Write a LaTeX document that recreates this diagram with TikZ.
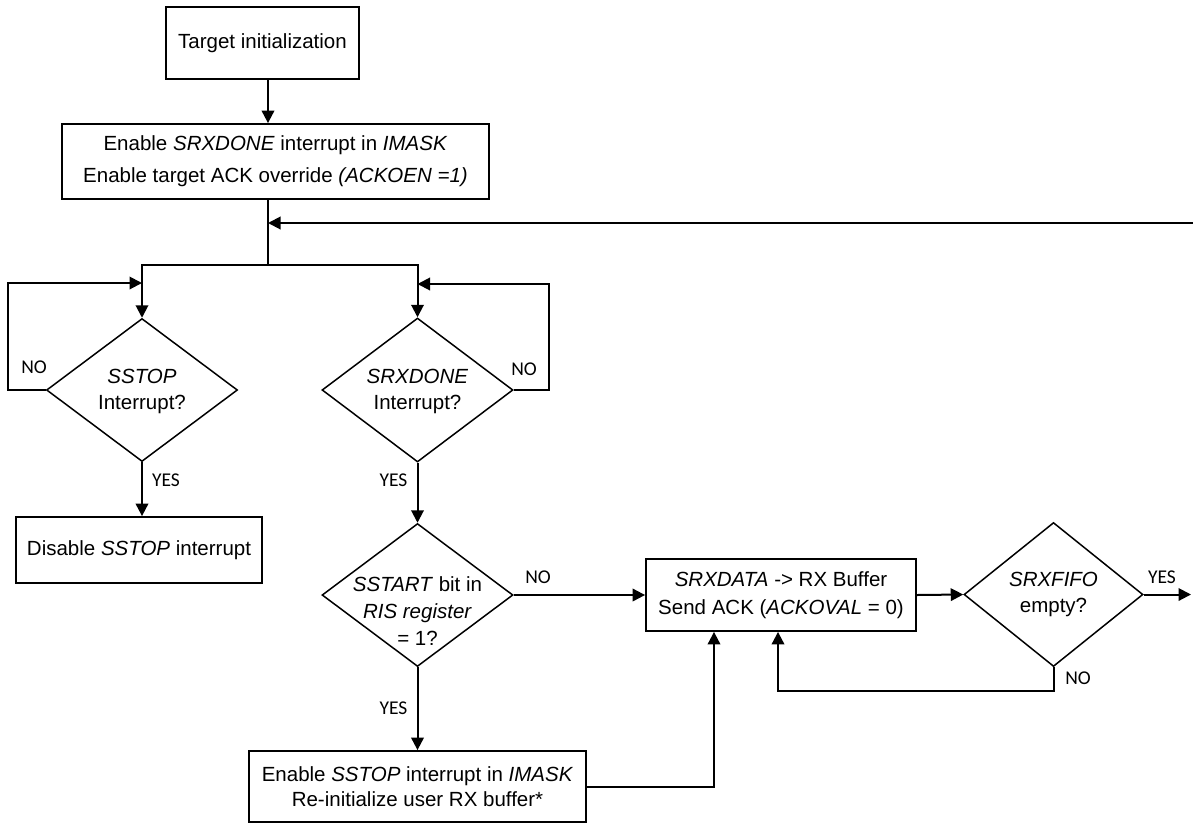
\documentclass[tikz,border=0pt]{standalone}
\usepackage{fontspec}
\setmainfont{Liberation Sans}
\newfontfamily\lblfont{Carlito}
\usetikzlibrary{arrows.meta,shapes.geometric}
\begin{document}
\begin{tikzpicture}[x=1pt,y=-1pt,
  box/.style={draw,line width=1.8pt,inner sep=0pt,align=center,font=\fontsize{20.5}{28}\selectfont},
  dia/.style={draw,diamond,line width=1.5pt,inner sep=0pt},
  dtext/.style={align=center,inner sep=0pt,font=\fontsize{20.5}{26}\selectfont},
  lbl/.style={inner sep=0pt,font=\lblfont\fontsize{19.5}{21}\selectfont},
  conn/.style={line width=2pt},
  arr/.style={line width=2pt,-{Triangle[length=12.5pt,width=12.5pt]}}]
\useasboundingbox (0,0) rectangle (1193,823);
% boxes
\node[box,minimum width=193pt,minimum height=72pt] (b1) at (262.5,43) {Target initialization};
\node[box,minimum width=427pt,minimum height=75pt,font=\fontsize{20.5}{32}\selectfont] (b2) at (275.5,161.5)
  {Enable \textit{SRXDONE} interrupt in \textit{IMASK}\\Enable target ACK override \textit{(ACKOEN =1)}};
\node[box,minimum width=246pt,minimum height=66pt] (b3) at (139,550) {Disable \textit{SSTOP} interrupt};
\node[box,minimum width=337pt,minimum height=71pt,font=\fontsize{20.5}{25}\selectfont] (b4) at (417.5,786.5)
  {Enable \textit{SSTOP} interrupt in \textit{IMASK}\\Re-initialize user RX buffer*};
\node[box,minimum width=270pt,minimum height=72pt] (b5) at (781,595)
  {\textit{SRXDATA} -> RX Buffer\\Send ACK (\textit{ACKOVAL} = 0)};
% diamonds
\node[dia,minimum width=191pt,minimum height=143pt] (d1) at (142,390) {};
\node[dia,minimum width=191pt,minimum height=144pt] (d2) at (417.5,390) {};
\node[dia,minimum width=191pt,minimum height=143pt] (d3) at (417.5,595) {};
\node[dia,minimum width=179pt,minimum height=144pt] (d4) at (1053.5,594.5) {};
\node[dtext] (t1) at (142,391) {\textit{SSTOP}\\Interrupt?};
\node[dtext] (t2) at (417.5,391) {\textit{SRXDONE}\\Interrupt?};
\node[dtext,font=\fontsize{20.5}{27}\selectfont] (t3) at (417.5,611) {\textit{SSTART} bit in\\\textit{RIS register}\\= 1?};
\node[dtext] (t4) at (1053.5,594) {\textit{SRXFIFO}\\empty?};
% labels
\node[lbl] (y1) at (166,480) {YES};
\node[lbl] (n1) at (34,367) {NO};
\node[lbl] (y2) at (393.5,480) {YES};
\node[lbl] (n2) at (524,369) {NO};
\node[lbl] (y3) at (393.5,708) {YES};
\node[lbl] (n3) at (538,577) {NO};
\node[lbl] (y4) at (1162,577) {YES};
\node[lbl] (n4) at (1078,678) {NO};
% coordinates
\coordinate (x268) at (268,0);
\coordinate (jn) at (268,265);
\coordinate (rj) at (268,223);
\coordinate (rin) at (1193,223);
\coordinate (l1) at (142,283);
\coordinate (l2) at (417.5,284);
\coordinate (x714) at (714,0);
\coordinate (x778) at (778,0);
\coordinate (out) at (1191,594.5);
% connectors
\draw[arr] (b1.south -| x268) -- (b2.north -| x268);
\draw[conn] (b2.south -| x268) -- (jn);
\draw[arr] (rin) -- (rj);
\draw[arr] (jn) -| (d1.north);
\draw[arr] (jn) -| (d2.north);
\draw[arr] (d1.west) -- ++(-38,0) |- (l1);
\draw[arr] (d2.east) -- ++(35,0) |- (l2);
\draw[arr] (d1.south) -- (d1.south |- b3.north);
\draw[arr] (d2.south) -- (d3.north);
\draw[arr] (d3.south) -- (d3.south |- b4.north);
\draw[arr] (d3.east) -- (b5.west);
\draw[arr] (b4.east) -| (b5.south -| x714);
\draw[arr] (b5.east) -- (d4.west);
\draw[arr] (d4.east) -- (out);
\draw[arr] (d4.south) -- ++(0,24) -| (b5.south -| x778);
\end{tikzpicture}
\end{document}
